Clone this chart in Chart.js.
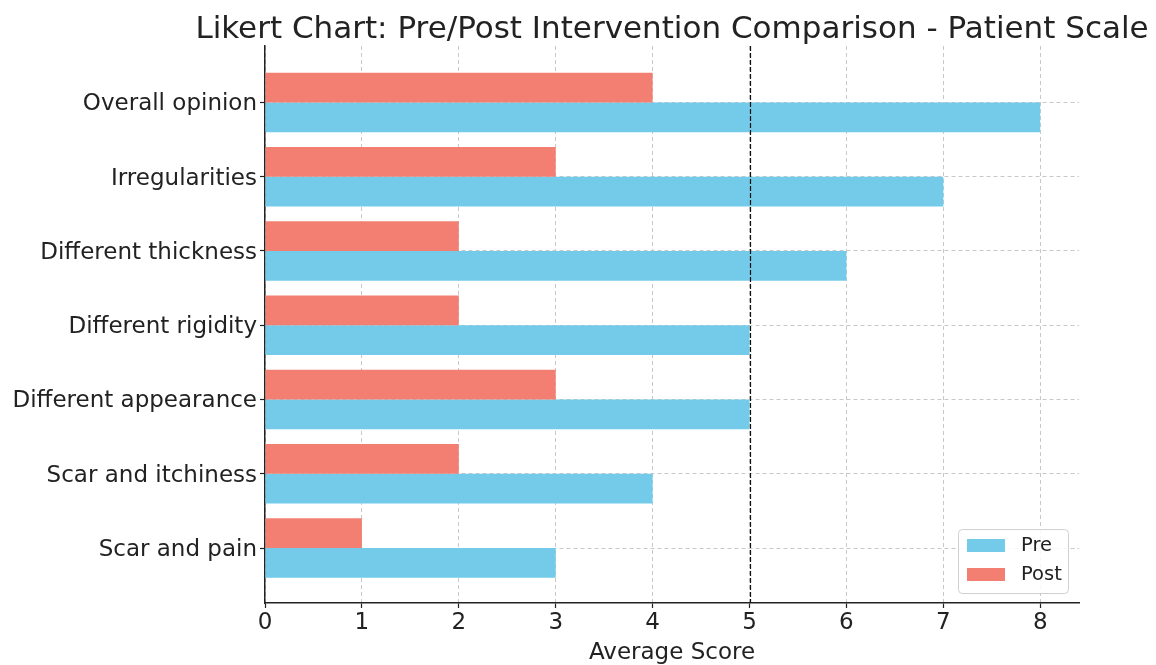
<!DOCTYPE html>
<html>
<head>
<meta charset="utf-8">
<script src="https://cdn.jsdelivr.net/npm/chart.js@4/dist/chart.umd.min.js"></script>
<style>
  html, body { margin: 0; padding: 0; background: #fff; }
  #wrap { width: 1156px; height: 665px; }
</style>
</head>
<body>
<div id="wrap"><canvas id="likertChart"></canvas></div>
<script>
const categories = ["Overall opinion", "Irregularities", "Different thickness", "Different rigidity",
  "Different appearance", "Scar and itchiness", "Scar and pain"];
const preScores = [8, 7, 6, 5, 5, 4, 3];
const postScores = [4, 3, 2, 2, 3, 2, 1];
const xTicks = [0, 1, 2, 3, 4, 5, 6, 7, 8];
const refLine = 5;

const titleText = "Likert Chart: Pre/Post Intervention Comparison - Patient Scale";
const FONT = "'DejaVu Sans', sans-serif";
const preColor = "#73cbe9";
const postColor = "#f27f72";

// title centred on the plot area, like matplotlib does
const titlePlugin = {
  id: "plotTitle",
  afterDraw(chart) {
    const { ctx, chartArea } = chart;
    ctx.save();
    ctx.font = "31px " + FONT;
    ctx.fillStyle = "#222";
    ctx.textAlign = "center";
    ctx.textBaseline = "alphabetic";
    ctx.fillText(titleText, (chartArea.left + chartArea.right) / 2, 38);
    ctx.restore();
  }
};

// dashed reference line at x = 5
const refLinePlugin = {
  id: "refLine",
  afterDatasetsDraw(chart) {
    const { ctx, chartArea, scales } = chart;
    const x = Math.round(scales.x.getPixelForValue(refLine)) + 0.5;
    ctx.save();
    ctx.strokeStyle = "#111";
    ctx.lineWidth = 1.2;
    ctx.setLineDash([5, 2]);
    ctx.beginPath();
    ctx.moveTo(x, chartArea.top);
    ctx.lineTo(x, chartArea.bottom);
    ctx.stroke();
    ctx.restore();
  }
};

// legend box inside the lower right corner
const legendPlugin = {
  id: "innerLegend",
  afterDraw(chart) {
    const { ctx, chartArea } = chart;
    const items = [chart.data.datasets[1], chart.data.datasets[0]];
    const w = 110, h = 64;
    const x0 = chartArea.right - 11 - w;
    const y0 = chartArea.bottom - 10 - h;
    ctx.save();
    ctx.fillStyle = "rgba(255,255,255,0.85)";
    ctx.strokeStyle = "#d0d0d0";
    ctx.lineWidth = 1;
    ctx.beginPath();
    ctx.roundRect(x0 + 0.5, y0 + 0.5, w, h, 4);
    ctx.fill();
    ctx.stroke();
    ctx.font = "19.5px " + FONT;
    ctx.textBaseline = "middle";
    items.forEach((ds, i) => {
      const cy = y0 + 16 + i * 29;
      ctx.fillStyle = ds.backgroundColor;
      ctx.fillRect(x0 + 9, cy - 6, 38, 13);
      ctx.fillStyle = "#222";
      ctx.fillText(ds.label, x0 + 63, cy + 1);
    });
    ctx.restore();
  }
};

new Chart(document.getElementById("likertChart"), {
  type: "bar",
  data: {
    datasets: [
      { label: "Post", data: postScores.map((v, i) => ({ x: v, y: i })), backgroundColor: postColor },
      { label: "Pre", data: preScores.map((v, i) => ({ x: v, y: i })), backgroundColor: preColor }
    ]
  },
  options: {
    indexAxis: "y",
    responsive: true,
    maintainAspectRatio: false,
    animation: false,
    categoryPercentage: 0.8,
    barPercentage: 1.0,
    layout: { padding: { top: 46, right: 77, left: 0, bottom: 0 } },
    plugins: {
      legend: { display: false },
      tooltip: { enabled: false },
      title: { display: false }
    },
    scales: {
      x: {
        type: "linear",
        min: 0,
        max: 8.4,
        z: 1,
        afterBuildTicks(scale) { scale.ticks = xTicks.map(v => ({ value: v })); },
        afterFit(scale) { scale.height = 62; },
        ticks: { color: "#222", font: { family: FONT, size: 23 }, padding: 1 },
        grid: { color: "#c8c8c8", lineWidth: 1, tickColor: "#222", tickLength: 5, tickWidth: 1.2 },
        border: { display: true, color: "#222", width: 1.5, dash: [4, 3] },
        title: { display: true, text: "Average Score", color: "#222", font: { family: FONT, size: 23 }, padding: { top: 4, bottom: -2 } }
      },
      y: {
        type: "linear",
        reverse: true,
        offset: false,
        min: -0.76,
        max: 6.74,
        z: 1,
        afterBuildTicks(scale) { scale.ticks = categories.map((c, i) => ({ value: i })); },
        afterFit(scale) { scale.width = 265; },
        ticks: {
          color: "#222",
          font: { family: FONT, size: 23 },
          padding: 3,
          labelOffset: 2,
          callback: (v) => categories[v]
        },
        grid: { offset: false, color: "#c8c8c8", lineWidth: 1, tickColor: "#222", tickLength: 5, tickWidth: 1.2 },
        border: { display: true, color: "#222", width: 1.5, dash: [4, 3] }
      }
    }
  },
  plugins: [titlePlugin, refLinePlugin, legendPlugin]
});
</script>
</body>
</html>
